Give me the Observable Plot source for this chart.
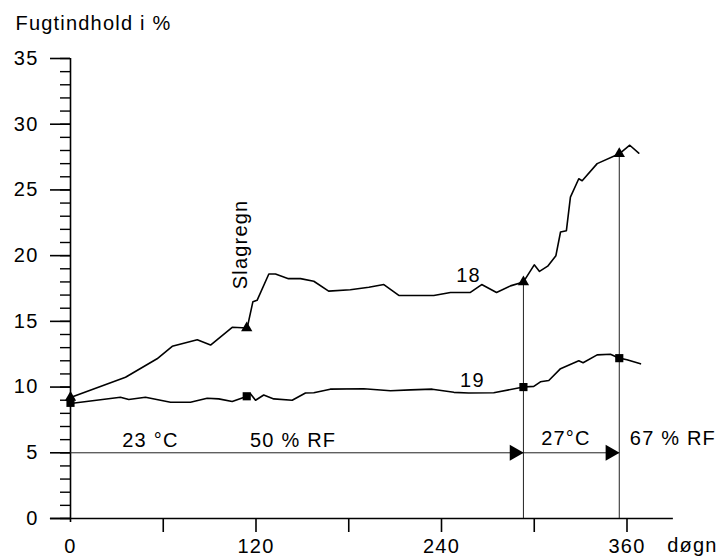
<!DOCTYPE html>
<html>
<head>
<meta charset="utf-8">
<script src="https://cdn.jsdelivr.net/npm/d3@7"></script>
<script src="https://cdn.jsdelivr.net/npm/@observablehq/plot@0.6"></script>
<style>
  html, body { margin: 0; padding: 0; background: #fff; }
  svg { display: block; }
  svg text { letter-spacing: 1.2px; }
  svg text.unit { letter-spacing: 0; }
</style>
</head>
<body>
<div id="chart"></div>
<script>
// Moisture content (%) over time (days) for samples 18 and 19
const days18 = [0, 35.6, 56, 65.8, 82, 90.6, 104.6, 114.3, 118, 120.7, 128.3, 132.6, 141, 148.8, 157.4, 167, 181, 193, 202.7, 212.4, 235, 245.8, 258.7, 266, 275.6, 284.6, 293, 300, 303.4, 308.7, 314, 317, 320.8, 323.4, 328.8, 331, 340.7, 355, 361.8, 367.6];
const values18 = [9.2, 10.75, 12.15, 13.1, 13.6, 13.2, 14.55, 14.5, 16.5, 16.6, 18.6, 18.6, 18.25, 18.25, 18.05, 17.3, 17.4, 17.6, 17.8, 16.97, 16.97, 17.2, 17.2, 17.8, 17.2, 17.7, 18.0, 19.3, 18.8, 19.2, 20.0, 21.8, 21.9, 24.45, 25.85, 25.7, 27.0, 27.75, 28.4, 27.8];

const days19 = [0, 32.3, 37.7, 48.5, 64.7, 77.6, 88.4, 95.9, 104.6, 114.3, 116.4, 119.7, 125, 131.5, 143.4, 152, 157.4, 168, 189.7, 207, 220, 234, 248, 257.6, 273.8, 293, 299.7, 304, 309.4, 317, 328.8, 331.6, 340.7, 349.3, 355, 360, 368.7];
const values19 = [8.75, 9.23, 9.05, 9.23, 8.85, 8.85, 9.15, 9.1, 8.9, 9.3, 9.5, 9.0, 9.4, 9.1, 9.0, 9.55, 9.57, 9.84, 9.87, 9.72, 9.79, 9.84, 9.6, 9.55, 9.57, 10.0, 10.05, 10.4, 10.5, 11.4, 12.0, 11.85, 12.45, 12.5, 12.2, 12.08, 11.77];

// Measurement markers
const markerDays = [0, 114, 293, 355];
const markerValues18 = [9.2, 14.5, 18.0, 27.75];
const markerValues19 = [8.8, 9.3, 10.0, 12.2];

// Climate change-overs (day at which the condition ends)
const phaseEnds = [293, 355];
const phaseTops = [18.0, 27.75];
const phaseLevel = 5;

// Axis ticks
const yMajorTicks = [0, 5, 10, 15, 20, 25, 30, 35];
const yMinorTicks = d3.range(0, 36, 1);
const xTicks = [60, 120, 180, 240, 300, 360];
const xLabelTicks = [0, 120, 240, 360];

// Annotations
const labelTexts = ["23 °C", "50 % RF", "27°C", "67 % RF", "18", "19"];
const labelDays = [51.7, 144, 320.5, 389.7, 257.5, 260];
const labelValues = [5.94, 5.94, 6.1, 6.1, 18.5, 10.5];

const title = "Fugtindhold i %";
const xUnit = "døgn";
const rainLabel = "Slagregn";

const s18 = days18.map((d, i) => ({day: d, value: values18[i]}));
const s19 = days19.map((d, i) => ({day: d, value: values19[i]}));
const m18 = markerDays.map((d, i) => ({day: d, value: markerValues18[i]}));
const m19 = markerDays.map((d, i) => ({day: d, value: markerValues19[i]}));
const phases = phaseEnds.map((d, i) => ({day: d, top: phaseTops[i], start: i === 0 ? 0 : phaseEnds[i - 1]}));
const labels = labelTexts.map((t, i) => ({text: t, day: labelDays[i], value: labelValues[i]}));

const font = 20;

const chart = Plot.plot({
  width: 718,
  height: 558,
  marginLeft: 70,
  marginRight: 91.5,
  marginTop: 58,
  marginBottom: 40,
  x: {domain: [0, 360]},
  y: {domain: [0, 35]},
  style: {fontFamily: "'Liberation Sans', Arial, sans-serif", fontSize: font + "px", color: "black", background: "white", overflow: "visible"},
  marks: [
    // axis lines
    Plot.ruleX([0], {y1: -0.3, y2: 35, stroke: "black", strokeWidth: 1.6}),
    Plot.ruleY([0], {x1: -13, x2: 390, stroke: "black", strokeWidth: 1.6}),
    // y ticks
    Plot.axisY(yMinorTicks, {tickSize: 10, tickFormat: () => "", label: null, strokeWidth: 1.4}),
    Plot.axisY(yMajorTicks, {tickSize: 20, tickPadding: 12, label: null, fontSize: font, strokeWidth: 1.6}),
    // x ticks
    Plot.axisX(xTicks, {tickSize: 14, tickFormat: () => "", label: null, strokeWidth: 1.6}),
    Plot.axisX(xLabelTicks, {tickSize: 0, tickPadding: 20, label: null, fontSize: font}),
    Plot.text([xUnit], {x: 386, y: 0, dy: 27, textAnchor: "start", lineAnchor: "middle", fontSize: font, className: "unit"}),
    // climate phases
    Plot.ruleY(phases, {y: phaseLevel, x1: "start", x2: "day", stroke: "#222", strokeWidth: 1}),
    Plot.ruleX(phases, {x: "day", y1: 0, y2: "top", stroke: "#222", strokeWidth: 1}),
    Plot.dot(phases, {x: "day", y: phaseLevel, symbol: "triangle", r: 6, rotate: 90, dx: -9, fill: "black", stroke: "none"}),
    // moisture curves
    Plot.line(s18, {x: "day", y: "value", stroke: "black", strokeWidth: 1.6, curve: "linear"}),
    Plot.line(s19, {x: "day", y: "value", stroke: "black", strokeWidth: 1.6, curve: "linear"}),
    Plot.dot(m18, {x: "day", y: "value", symbol: "triangle", r: 4.2, fill: "black", stroke: "none"}),
    Plot.dot(m19, {x: "day", y: "value", symbol: "square", r: 4.6, fill: "black", stroke: "none"}),
    // annotations
    Plot.text(labels, {x: "day", y: "value", text: "text", fontSize: font, lineAnchor: "middle"}),
    Plot.text([rainLabel], {x: 110, y: 20.85, rotate: -90, fontSize: font, lineAnchor: "middle"}),
    Plot.text([title], {frameAnchor: "top-left", dx: -55, dy: -35, textAnchor: "start", lineAnchor: "middle", fontSize: font})
  ]
});

document.getElementById("chart").appendChild(chart);
</script>
</body>
</html>
